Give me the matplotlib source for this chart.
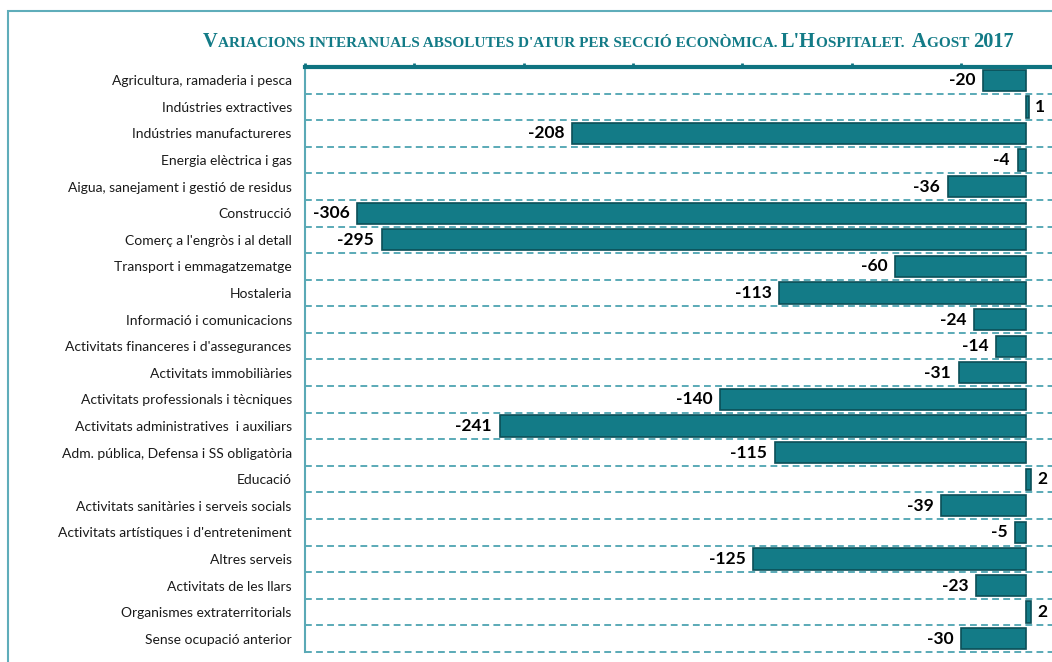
import matplotlib
matplotlib.use("Agg")
import matplotlib.pyplot as plt
from matplotlib.patches import Rectangle
import numpy as np

categories = [
    "Agricultura, ramaderia i pesca",
    "Indústries extractives",
    "Indústries manufactureres",
    "Energia elèctrica i gas",
    "Aigua, sanejament i gestió de residus",
    "Construcció",
    "Comerç a l'engròs i al detall",
    "Transport i emmagatzematge",
    "Hostaleria",
    "Informació i comunicacions",
    "Activitats financeres i d'assegurances",
    "Activitats immobiliàries",
    "Activitats professionals i tècniques",
    "Activitats administratives  i auxiliars",
    "Adm. pública, Defensa i SS obligatòria",
    "Educació",
    "Activitats sanitàries i serveis socials",
    "Activitats artístiques i d'entreteniment",
    "Altres serveis",
    "Activitats de les llars",
    "Organismes extraterritorials",
    "Sense ocupació anterior",
]
values = [-20, 1, -208, -4, -36, -306, -295, -60, -113, -24, -14, -31,
          -140, -241, -115, 2, -39, -5, -125, -23, 2, -30]

title_segments = [
    ("V", True), ("ARIACIONS INTERANUALS ABSOLUTES D'ATUR PER SECCIÓ ECONÒMICA. ", False),
    ("L'H", True), ("OSPITALET.  ", False), ("A", True), ("GOST ", False), ("2017", True),
]

W, H = 1052, 662
DPI = 100
TEAL = "#137b87"
EDGE = "#0b4f58"
GRID = "#5aaab7"
SPINE_TOP = "#0e7380"

fig = plt.figure(figsize=(W / DPI, H / DPI), dpi=DPI)
fig.patch.set_facecolor("white")

# outer frame (cropped on right/bottom)
fig.patches.append(Rectangle((7.5 / W, -0.05), 1.2, 1 - 10.5 / H + 0.05,
                             transform=fig.transFigure, fill=False,
                             edgecolor="#5fadba", linewidth=1.5, zorder=0))

xmin, xmax = -330, 20
px_per_unit = 2.186
ax_left, ax_top, ax_bottom = 305, 67, 652
ax_w = (xmax - xmin) * px_per_unit
ax = fig.add_axes([ax_left / W, 1 - ax_bottom / H, ax_w / W, (ax_bottom - ax_top) / H])

n = len(categories)
y = np.arange(n)
ax.barh(y, values, height=0.8, color=TEAL, edgecolor=EDGE, linewidth=1.2, zorder=3)
ax.set_xlim(xmin, xmax)
ax.set_ylim(n - 0.5, -0.5)

# dashed separators
for b in np.arange(0.5, n, 1.0):
    ax.axhline(b, color=GRID, linestyle=(0, (3.5, 2.2)), linewidth=1.4, zorder=1,
               clip_on=False)

ax.set_xticks(np.arange(xmin, xmax + 1, 50))
ax.xaxis.tick_top()
ax.tick_params(axis="x", direction="out", length=3, width=2, color=SPINE_TOP,
               labeltop=False, labelbottom=False)
ax.tick_params(axis="y", length=0, pad=9.5)
ax.set_yticks(y)
ax.set_yticklabels(categories, fontfamily="Lato", fontsize=10.0, color="#1a1a1a")

for s in ["right", "bottom"]:
    ax.spines[s].set_visible(False)
ax.spines["top"].set_color(SPINE_TOP)
ax.spines["top"].set_linewidth(3)
ax.spines["left"].set_color("#5aa9b6")
ax.spines["left"].set_linewidth(1.5)

for yi, v in zip(y, values):
    if v < 0:
        ax.annotate(f"{v}", xy=(v, yi), xytext=(-5.5, 0), textcoords="offset points",
                    ha="right", va="center", fontfamily="Lato", fontweight="bold",
                    fontsize=12.5, color="black", zorder=4)
    else:
        ax.annotate(f"{v}", xy=(v, yi), xytext=(4.5, 0), textcoords="offset points",
                    ha="left", va="center", fontfamily="Lato", fontweight="bold",
                    fontsize=12.5, color="black", zorder=4)

# small-caps style title
renderer = fig.canvas.get_renderer()
big, small = 16.0, 12.0
target_w = 812.0
title_x0 = 203.0
baseline_y = 1 - 47.0 / H


def draw_title(bs, ss):
    arts = []
    x = title_x0
    for txt, is_big in title_segments:
        t = fig.text(x / W, baseline_y, txt, fontfamily="Liberation Serif",
                     fontweight="bold", fontsize=bs if is_big else ss,
                     color=TEAL, ha="left", va="baseline")
        bb = t.get_window_extent(renderer)
        x = bb.x1
        arts.append(t)
    return arts, x - title_x0


arts, tw = draw_title(big, small)
scale = target_w / tw
for a in arts:
    a.remove()
draw_title(big * scale, small * scale)

fig.savefig("out.png", dpi=DPI)
